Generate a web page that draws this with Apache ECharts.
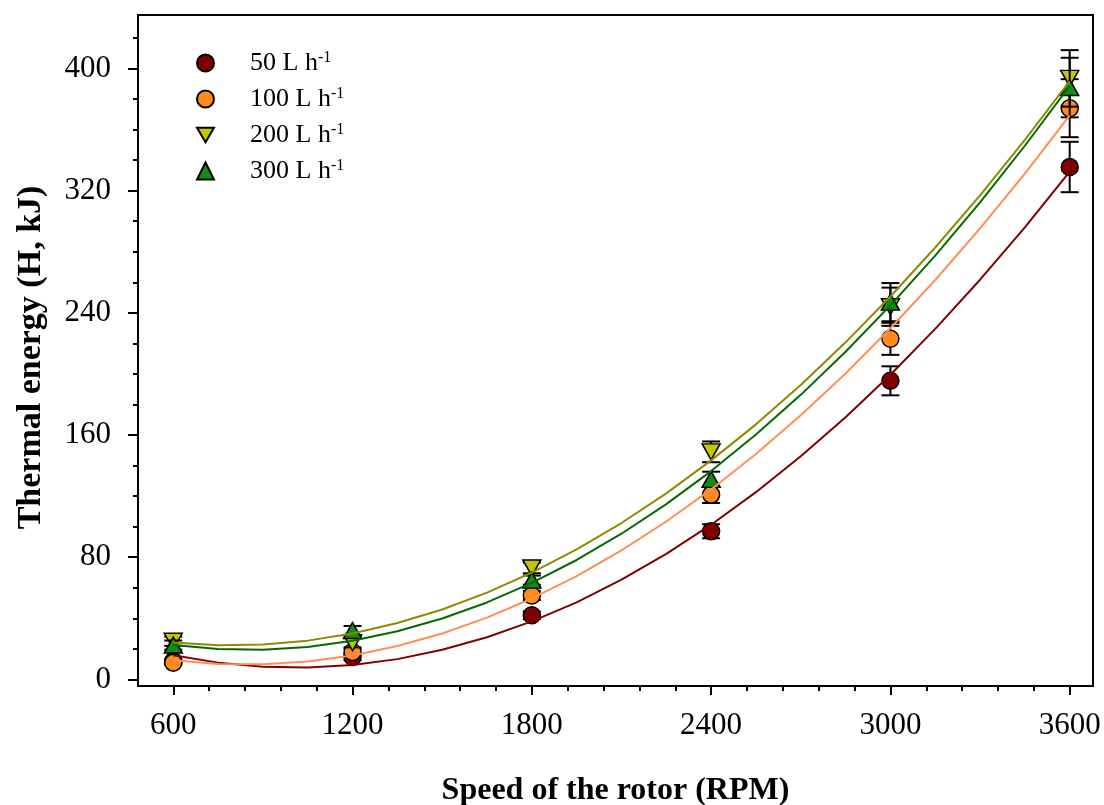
<!DOCTYPE html>
<html>
<head>
<meta charset="utf-8">
<title>Thermal energy vs rotor speed</title>
<script src="https://cdn.jsdelivr.net/npm/echarts@6/dist/echarts.min.js"></script>
<style>
  html, body { margin: 0; padding: 0; background: #fff; }
  #chart { width: 1104px; height: 805px; }
</style>
</head>
<body>
<div id="chart"></div>
<script>
// Rotor speeds (RPM) at which thermal energy was measured
const speeds = [600, 1200, 1800, 2400, 3000, 3600];

// Mean thermal energy (kJ) and error (± kJ) for each flow rate
const h50 = [12, 14.7, 42, 97, 195.5, 335.5];
const h50Err = [1.5, 2, 2.5, 4.6, 9.5, 16.5];
const h100 = [11, 18, 55, 121, 223, 374];
const h100Err = [1.5, 2, 3, 5.5, 10.5, 19];
const h200 = [25, 24, 73, 149, 244, 393.5];
const h200Err = [3, 3, 3.5, 6.8, 12.5, 18.5];
const h300 = [22.5, 32, 65, 131, 247, 387.5];
const h300Err = [3, 3, 3, 5, 12.5, 19.5];

// Fitted trend curves sampled every 150 RPM along the speed range
const fitSpeeds = [600, 750, 900, 1050, 1200, 1350, 1500, 1650, 1800, 1950, 2100,
                   2250, 2400, 2550, 2700, 2850, 3000, 3150, 3300, 3450, 3600];
const fit50 = [15.9, 11.0, 8.3, 7.8, 9.5, 13.3, 19.4, 27.6, 38.0, 50.5, 65.3,
               82.2, 101.3, 122.6, 146.1, 171.7, 199.5, 229.5, 261.7, 296.0, 332.5];
const fit100 = [12.5, 10.1, 9.9, 11.7, 15.7, 21.9, 30.1, 40.5, 53.0, 67.7, 84.5,
                103.4, 124.4, 147.6, 172.9, 200.3, 229.9, 261.5, 295.3, 331.2, 369.3];
const fit200 = [24.1, 22.4, 22.9, 25.4, 30.1, 36.9, 45.8, 56.8, 69.9, 85.1, 102.4,
                121.8, 143.4, 167.0, 192.8, 220.7, 250.7, 282.8, 316.9, 353.3, 391.7];
const fit300 = [22.6, 20.0, 19.5, 21.3, 25.3, 31.5, 39.9, 50.4, 63.2, 78.2, 95.4,
                114.8, 136.4, 160.3, 186.3, 214.5, 244.9, 277.5, 312.3, 349.4, 388.6];

// Legend texts (unit h with superscript -1)
const flowNames = ['50', '100', '200', '300'];
const flowLabels = ['50 L h', '100 L h', '200 L h', '300 L h'];

// Axis ticks
const xTicks = [600, 1200, 1800, 2400, 3000, 3600];
const xMinorTicks = [720, 840, 960, 1080, 1320, 1440, 1560, 1680, 1920, 2040, 2160, 2280,
                     2520, 2640, 2760, 2880, 3120, 3240, 3360, 3480];
const yTicks = [0, 80, 160, 240, 320, 400];
const yMinorTicks = [20, 40, 60, 100, 120, 140, 180, 200, 220, 260, 280, 300, 340, 360, 380, 420];

const SERIF = "'Liberation Serif', 'Times New Roman', serif";
const INV_TRIANGLE = 'path://M0,0L20,0L10,17.3Z';

const groups = [
  { name: flowNames[0], vals: h50, errs: h50Err, fit: fit50, fill: '#800000', curve: '#800000', symbol: 'circle', size: 17 },
  { name: flowNames[1], vals: h100, errs: h100Err, fit: fit100, fill: '#FF8C1A', curve: '#FF8F55', symbol: 'circle', size: 17 },
  { name: flowNames[2], vals: h200, errs: h200Err, fit: fit200, fill: '#C6C600', curve: '#8C8C00', symbol: INV_TRIANGLE, size: [18, 16] },
  { name: flowNames[3], vals: h300, errs: h300Err, fit: fit300, fill: '#138C13', curve: '#066806', symbol: 'triangle', size: [18, 16] }
];

function errorBarItem(params, api) {
  const x = api.value(0), y = api.value(1), e = api.value(2);
  const top = api.coord([x, y + e]);
  const bot = api.coord([x, y - e]);
  const hw = 9;
  const style = { stroke: '#000', lineWidth: 2 };
  return {
    type: 'group',
    children: [
      { type: 'line', shape: { x1: top[0], y1: top[1], x2: bot[0], y2: bot[1] }, style },
      { type: 'line', shape: { x1: top[0] - hw, y1: top[1], x2: top[0] + hw, y2: top[1] }, style },
      { type: 'line', shape: { x1: bot[0] - hw, y1: bot[1], x2: bot[0] + hw, y2: bot[1] }, style }
    ]
  };
}

const series = [];
groups.forEach((g, i) => {
  series.push({
    name: 'err' + g.name,
    type: 'custom',
    renderItem: errorBarItem,
    data: speeds.map((s, k) => [s, g.vals[k], g.errs[k]]),
    encode: { x: 0, y: 1 },
    z: 2 + i * 2,
    silent: true
  });
  series.push({
    name: g.name,
    type: 'scatter',
    data: speeds.map((s, k) => [s, g.vals[k]]),
    symbol: g.symbol,
    symbolSize: g.size,
    symbolKeepAspect: false,
    itemStyle: { color: g.fill, borderColor: '#000', borderWidth: 1.5, opacity: 1 },
    z: 3 + i * 2
  });
});
groups.forEach((g) => {
  series.push({
    name: 'fit' + g.name,
    type: 'line',
    data: fitSpeeds.map((s, k) => [s, g.fit[k]]),
    smooth: false,
    symbol: 'none',
    lineStyle: { color: g.curve, width: 2, join: 'round' },
    z: 20,
    silent: true
  });
});

const plainNumber = (v) => String(v);

const chart = echarts.init(document.getElementById('chart'), null, { renderer: 'canvas' });
chart.setOption({
  animation: false,
  backgroundColor: '#fff',
  grid: {
    left: 138, right: 11, top: 15, bottom: 119,
    outerBoundsMode: 'none', containLabel: false,
    show: true, borderColor: '#000', borderWidth: 2, backgroundColor: 'transparent'
  },
  legend: {
    orient: 'vertical',
    left: 196,
    top: 50,
    padding: 0,
    itemGap: 10,
    itemWidth: 17,
    itemHeight: 17,
    selectedMode: false,
    data: flowNames,
    formatter: (name) => '{n|' + flowLabels[flowNames.indexOf(name)] + '}{s|-1}',
    textStyle: {
      rich: {
        n: { fontFamily: SERIF, fontSize: 26, color: '#000', padding: [0, 0, 0, 31] },
        s: { fontFamily: SERIF, fontSize: 16, color: '#000', verticalAlign: 'top' }
      }
    }
  },
  xAxis: [
    {
      type: 'value', min: 482, max: 3678, position: 'bottom',
      axisLine: { show: true, onZero: false, lineStyle: { color: '#000', width: 2 } },
      axisTick: { show: true, inside: false, length: 9, lineStyle: { color: '#000', width: 2 }, customValues: xTicks },
      axisLabel: { customValues: xTicks, formatter: plainNumber, margin: 24, fontFamily: SERIF, fontSize: 31, color: '#000' },
      splitLine: { show: false },
      name: 'Speed of the rotor (RPM)',
      nameLocation: 'middle',
      nameGap: 89,
      nameTextStyle: { fontFamily: SERIF, fontSize: 32, fontWeight: 'bold', color: '#000' }
    },
    {
      type: 'value', min: 482, max: 3678, position: 'bottom',
      axisLine: { show: false, onZero: false },
      axisTick: { show: true, inside: false, length: 5, lineStyle: { color: '#000', width: 2 }, customValues: xMinorTicks },
      axisLabel: { show: false },
      splitLine: { show: false }
    }
  ],
  yAxis: [
    {
      type: 'value', min: -4.3, max: 435, position: 'left',
      axisLine: { show: true, onZero: false, lineStyle: { color: '#000', width: 2 } },
      axisTick: { show: true, inside: false, length: 10, lineStyle: { color: '#000', width: 2 }, customValues: yTicks },
      axisLabel: { customValues: yTicks, formatter: plainNumber, margin: 27, fontFamily: SERIF, fontSize: 31, color: '#000' },
      splitLine: { show: false },
      name: 'Thermal energy (H, kJ)',
      nameLocation: 'middle',
      nameGap: 90,
      nameTextStyle: { fontFamily: SERIF, fontSize: 34, fontWeight: 'bold', color: '#000', padding: [0, 14, 0, 0] }
    },
    {
      type: 'value', min: -4.3, max: 435, position: 'left',
      axisLine: { show: false, onZero: false },
      axisTick: { show: true, inside: false, length: 5, lineStyle: { color: '#000', width: 2 }, customValues: yMinorTicks },
      axisLabel: { show: false },
      splitLine: { show: false }
    }
  ],
  series: series
});
</script>
</body>
</html>
